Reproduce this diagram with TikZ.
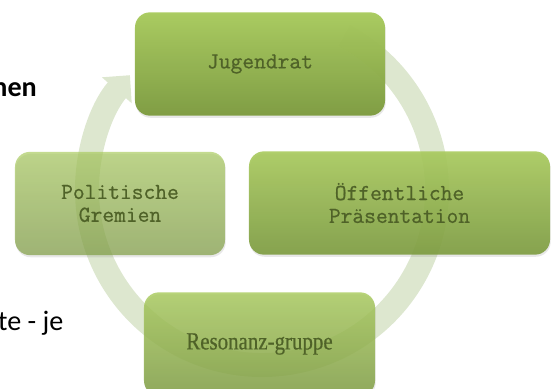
\documentclass[tikz,border=0pt]{standalone}
\usepackage{fontspec}
\usepackage{tikz}
\usetikzlibrary{positioning,arrows.meta,shadows}
\setmonofont[FakeBold=0.7]{Latin Modern Mono}
\newfontfamily\slidefont{Carlito}
\newfontfamily\resofont[FakeStretch=0.85, FakeBold=0.5]{Liberation Serif}
\definecolor{OliveText}{RGB}{79,98,40}
\definecolor{OliveTop}{RGB}{168,202,92}
\definecolor{OliveBottom}{RGB}{124,155,62}
\definecolor{RingGreen}{RGB}{221,231,207}
\tikzset{
    cyclebox/.style={rectangle, rounded corners=0.45cm, minimum height=3.1cm, inner sep=0pt, align=center, text=OliveText, text opacity=1, font=\ttfamily\fontsize{19.5}{19.5}\selectfont, top color=OliveTop, bottom color=OliveBottom, drop shadow={opacity=0.18, shadow xshift=0.6pt, shadow yshift=-1.8pt}},
    slidetext/.style={anchor=base east, inner sep=0pt, text=black}
}
\begin{document}
\begin{tikzpicture}[x=0.03cm, y=0.03cm,
                % Kreispfeil hinter den Kaesten
                ringarrow/.style={
                    line width=0.72cm,
                    draw=RingGreen,
                    -{Triangle[length=0.6cm, width=1.15cm]}
                }
            ]
                \useasboundingbox (0,0) rectangle (555,389);
                % Textreste der Folie
                \node[slidetext, font=\slidefont\bfseries\fontsize{24}{28}\selectfont] (headfrag) at (37,292) {nen};
                \node[slidetext, font=\slidefont\fontsize{24}{28}\selectfont] (bodyfrag) at (63.5,58) {te - je};
                % Ring
                \draw[ringarrow] (262,199) ++(62:5.25cm) arc[start angle=62, end angle=-221, radius=5.25cm];
                % Kaesten im Uhrzeigersinn
                \node[cyclebox, minimum width=7.5cm, fill opacity=0.96] (jugendrat) at (260,325) {Jugendrat};
                \node[cyclebox, minimum width=9.03cm, fill opacity=0.9] (praesentation) at (399.5,186) {Öffentliche\\Präsentation};
                \node[cyclebox, minimum width=6.93cm, fill opacity=0.82, font=\resofont\fontsize{21}{21}\selectfont] (resonanz) at (259.5,45) {Resonanz-gruppe};
                \node[cyclebox, minimum width=6.3cm, fill opacity=0.68] (gremien) at (120,185.5) {Politische\\Gremien};
            \end{tikzpicture}
\end{document}
